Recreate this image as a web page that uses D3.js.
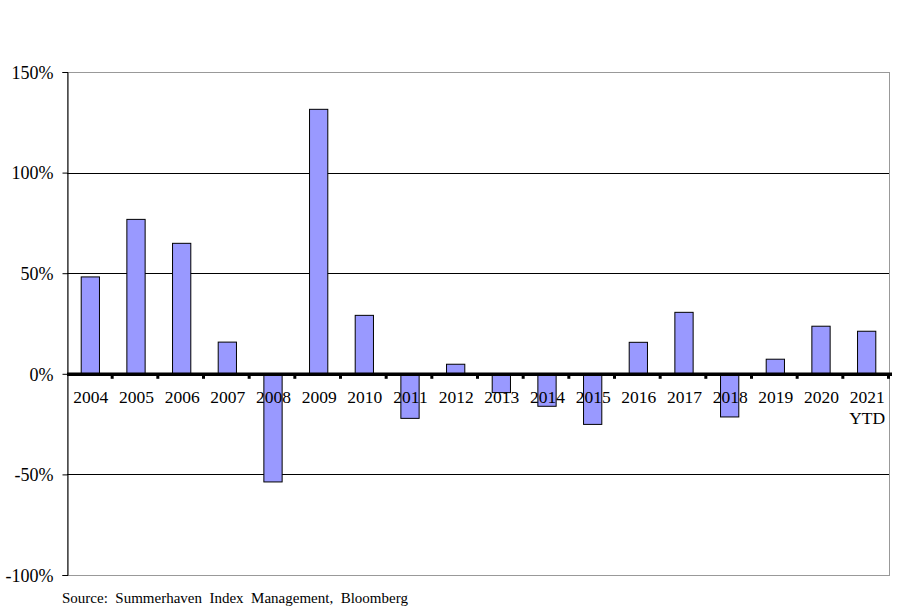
<!DOCTYPE html>
<html><head><meta charset="utf-8">
<script src="https://cdn.jsdelivr.net/npm/d3@7"></script>
<style>body{margin:0;background:#fff}svg{display:block}</style>
</head><body>
<svg id="c" width="900" height="612"></svg>
<script>
const years = ["2004","2005","2006","2007","2008","2009","2010","2011","2012","2013","2014","2015","2016","2017","2018","2019","2020","2021"];
const returns = [48.4, 77.0, 65.1, 16.0, -53.5, 131.7, 29.3, -21.9, 5.0, -9.1, -15.9, -24.9, 15.9, 30.8, -21.2, 7.5, 23.9, 21.4];
const yTicks = [-100, -50, 0, 50, 100, 150];
const sourceText = "Source:  Summerhaven  Index  Management,  Bloomberg";

const svg = d3.select("#c");
const L = 67, R = 889, T = 72, B = 575;
const x = d3.scaleBand().domain(years).range([L, R]).paddingInner(0.6).paddingOuter(0.3);
const xb = d3.scaleBand().domain(years).range([L, R]);
const y = d3.scaleLinear().domain([-100, 150]).range([B, T]);
const font = "'Liberation Serif','Times New Roman',serif";

// frame (gray top/right/bottom)
svg.append("rect").attr("x", L).attr("y", T).attr("width", R - L).attr("height", B - T)
  .attr("fill", "none").attr("stroke", "#999").attr("stroke-width", 1).attr("shape-rendering", "crispEdges");

// gridlines
svg.append("g").selectAll("line").data(yTicks.filter(d => d !== 0 && d !== 150 && d !== -100)).join("line")
  .attr("x1", L).attr("x2", R).attr("y1", d => Math.round(y(d)) + 0.5).attr("y2", d => Math.round(y(d)) + 0.5)
  .attr("stroke", "#000").attr("stroke-width", 1);

// y axis
const yAxis = d3.axisLeft(y).tickValues(yTicks).tickFormat(d => d + "%").tickSize(5).tickPadding(9);
const gy = svg.append("g").attr("transform", `translate(${L + 0.5},0)`).call(yAxis);
gy.select(".domain").attr("stroke", "#000");
gy.selectAll(".tick line").attr("stroke", "#000");
gy.selectAll("text").attr("font-family", font).attr("font-size", 18).attr("fill", "#000").attr("dy", "0.35em");

// bars
svg.append("g").selectAll("rect").data(years).join("rect")
  .attr("x", (d) => x(d) + 0.5)
  .attr("width", x.bandwidth())
  .attr("y", (d, i) => y(Math.max(0, returns[i])) + 0.5)
  .attr("height", (d, i) => Math.abs(y(returns[i]) - y(0)))
  .attr("fill", "#9999ff").attr("stroke", "#000").attr("stroke-width", 1);

// zero axis thick
const y0 = y(0);
svg.append("line").attr("x1", L).attr("x2", R + 3).attr("y1", y0 + 0.5).attr("y2", y0 + 0.5)
  .attr("stroke", "#000").attr("stroke-width", 3.5);
// tick marks at category boundaries
const bounds = years.map(d => xb(d)).concat([R]);
svg.append("g").selectAll("rect").data(bounds.slice(1)).join("rect")
  .attr("x", d => d - 2).attr("y", y0).attr("width", 3).attr("height", 5).attr("fill", "#000");

// x labels
svg.append("g").selectAll("text").data(years).join("text")
  .attr("x", d => xb(d) + xb.bandwidth() / 2 + 1)
  .attr("y", y0 + 29)
  .attr("text-anchor", "middle").attr("font-family", font).attr("font-size", 17.5).attr("fill", "#000")
  .text(d => d);
svg.append("text").attr("x", xb("2021") + xb.bandwidth() / 2 + 1).attr("y", y0 + 50)
  .attr("text-anchor", "middle").attr("font-family", font).attr("font-size", 17.5).attr("fill", "#000").text("YTD");

// source
svg.append("text").attr("x", 62).attr("y", 603).attr("font-family", font).attr("font-size", 15)
  .attr("fill", "#000").attr("xml:space", "preserve").style("white-space", "pre").text(sourceText);
</script>
</body></html>
